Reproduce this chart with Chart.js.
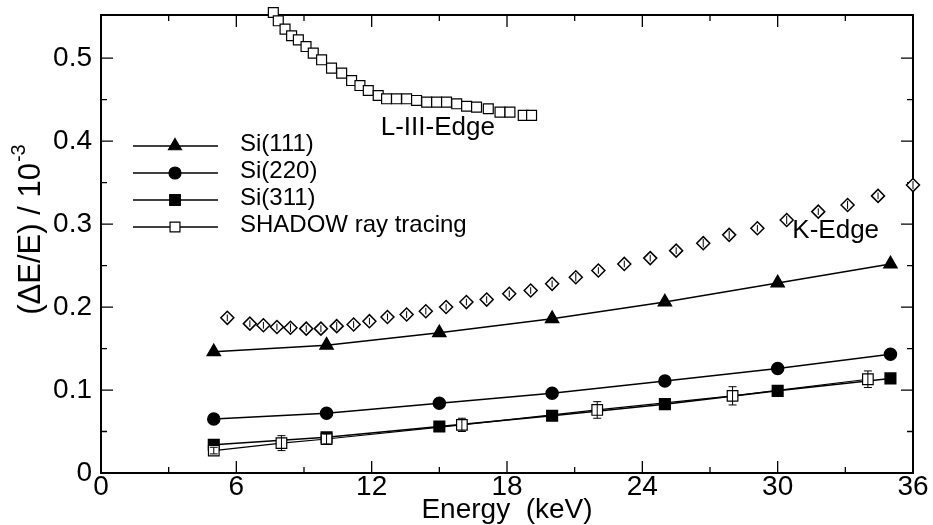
<!DOCTYPE html>
<html>
<head>
<meta charset="utf-8">
<script src="https://cdn.jsdelivr.net/npm/chart.js@4.4.1/dist/chart.umd.min.js"></script>
<style>
  html, body { margin: 0; padding: 0; background: #fff; }
  #contenedor { width: 933px; height: 525px; }
</style>
</head>
<body>
<div id="contenedor"><canvas id="grafica" width="933" height="525"></canvas></div>
<script>
// DATOS
const energiaSi = [5, 10, 15, 20, 25, 30, 35];
const si111 = [0.146, 0.154, 0.169, 0.186, 0.206, 0.229, 0.252];
const si220 = [0.065, 0.072, 0.084, 0.096, 0.111, 0.126, 0.143];
const si311 = [0.034, 0.043, 0.056, 0.069, 0.083, 0.099, 0.114];

const energiaShadow = [5, 8, 10, 16, 22, 28, 34];
const shadow = [0.027, 0.036, 0.041, 0.058, 0.076, 0.093, 0.113];
const errorShadow = [0.004, 0.009, 0.006, 0.008, 0.010, 0.011, 0.010];

const energiaLIII = [7.64, 7.86, 8.16, 8.45, 8.75, 9.09, 9.41, 9.78, 10.22, 10.67,
  11.11, 11.48, 11.85, 12.29, 12.66, 13.1, 13.55, 13.99, 14.44, 14.88,
  15.32, 15.77, 16.21, 16.65, 17.17, 17.69, 18.13, 18.72, 19.09];
const valoresLIII = [0.555, 0.545, 0.535, 0.527, 0.522, 0.514, 0.506, 0.498, 0.488, 0.482,
  0.473, 0.467, 0.461, 0.455, 0.451, 0.451, 0.451, 0.449, 0.447, 0.447,
  0.447, 0.445, 0.442, 0.441, 0.439, 0.435, 0.435, 0.431, 0.431];

const energiaK = [5.6, 6.6, 7.2, 7.8, 8.4, 9.1, 9.75, 10.45, 11.2, 11.9,
  12.7, 13.55, 14.4, 15.3, 16.2, 17.1, 18.1, 19.05, 20.0, 21.05,
  22.05, 23.2, 24.35, 25.5, 26.7, 27.85, 29.1, 30.4, 31.8, 33.1, 34.45, 36.0];
const valoresK = [0.187, 0.180, 0.178, 0.176, 0.175, 0.174, 0.174, 0.177, 0.179, 0.183,
  0.188, 0.191, 0.195, 0.200, 0.206, 0.209, 0.216, 0.220, 0.228, 0.236,
  0.244, 0.252, 0.259, 0.268, 0.277, 0.287, 0.295, 0.305, 0.315, 0.323, 0.334, 0.347];
const errorK = [0.004, 0.004, 0.004, 0.004, 0.005, 0.004, 0.004, 0.005, 0.004, 0.004,
  0.004, 0.004, 0.004, 0.004, 0.004, 0.004, 0.004, 0.004, 0.004, 0.005,
  0.004, 0.004, 0.004, 0.004, 0.005, 0.005, 0.004, 0.005, 0.004, 0.005, 0.004, 0.005];

const ticksX = [0, 6, 12, 18, 24, 30, 36];
const ticksXMenores = [3, 9, 15, 21, 27, 33];
const ticksY = [0, 0.1, 0.2, 0.3, 0.4, 0.5];
const ticksYMenores = [0.05, 0.15, 0.25, 0.35, 0.45];

const nombresSeries = ['Si(111)', 'Si(220)', 'Si(311)', 'SHADOW ray tracing'];
const notas = [
  { texto: 'L-III-Edge', x: 12.4, y: 0.416 },
  { texto: 'K-Edge', x: 30.65, y: 0.292 }
];

const fuente = "'Liberation Sans', Arial, Helvetica, sans-serif";
const graficaCanvas = document.getElementById('grafica');

const puntos = (xs, ys) => xs.map((x, i) => ({ x: x, y: ys[i] }));

// DIBUJA UN MARCADOR PARA LA LEYENDA
function dibujarMarcador(ctx, tipo, x, y, r, relleno) {
  ctx.beginPath();
  if (tipo === 'triangle') {
    for (let i = 0; i < 3; i++) {
      const a = i * 2 * Math.PI / 3;
      const px = x + Math.sin(a) * r;
      const py = y - Math.cos(a) * r;
      if (i === 0) ctx.moveTo(px, py); else ctx.lineTo(px, py);
    }
    ctx.closePath();
  } else if (tipo === 'circle') {
    ctx.arc(x, y, r, 0, Math.PI * 2);
  } else {
    const s = r * Math.SQRT1_2;
    ctx.rect(x - s, y - s, 2 * s, 2 * s);
  }
  ctx.fillStyle = relleno;
  ctx.fill();
  ctx.lineWidth = 1.2;
  ctx.strokeStyle = '#000';
  ctx.stroke();
}

// MARCO Y TICKS HACIA ADENTRO
const pluginMarco = {
  id: 'marco',
  beforeDatasetsDraw(chart) {
    const { ctx, chartArea: a, scales } = chart;
    ctx.save();
    ctx.strokeStyle = '#000';
    ctx.lineWidth = 2;
    ctx.strokeRect(a.left, a.top, a.right - a.left, a.bottom - a.top);
    ctx.lineWidth = 1.3;
    ctx.beginPath();
    const marcarX = (vals, largo) => vals.forEach((v) => {
      const px = scales.x.getPixelForValue(v);
      ctx.moveTo(px, a.bottom); ctx.lineTo(px, a.bottom - largo);
      ctx.moveTo(px, a.top); ctx.lineTo(px, a.top + largo);
    });
    const marcarY = (vals, largo) => vals.forEach((v) => {
      const py = scales.y.getPixelForValue(v);
      ctx.moveTo(a.left, py); ctx.lineTo(a.left + largo, py);
      ctx.moveTo(a.right, py); ctx.lineTo(a.right - largo, py);
    });
    marcarX(ticksX, 12);
    marcarX(ticksXMenores, 6);
    marcarY(ticksY, 12);
    marcarY(ticksYMenores, 6);
    ctx.stroke();
    ctx.restore();
  }
};

// BARRAS DE ERROR
const pluginErrores = {
  id: 'errores',
  afterDatasetsDraw(chart) {
    const { ctx, scales } = chart;
    const barras = (xs, ys, errs, cap, ancho) => {
      ctx.beginPath();
      xs.forEach((x, i) => {
        const px = scales.x.getPixelForValue(x);
        const y1 = scales.y.getPixelForValue(ys[i] - errs[i]);
        const y2 = scales.y.getPixelForValue(ys[i] + errs[i]);
        ctx.moveTo(px, y1); ctx.lineTo(px, y2);
        if (cap > 0) {
          ctx.moveTo(px - cap, y1); ctx.lineTo(px + cap, y1);
          ctx.moveTo(px - cap, y2); ctx.lineTo(px + cap, y2);
        }
      });
      ctx.lineWidth = ancho;
      ctx.stroke();
    };
    ctx.save();
    ctx.strokeStyle = '#000';
    barras(energiaShadow, shadow, errorShadow, 4, 1);
    barras(energiaK, valoresK, errorK, 0, 1);
    ctx.restore();
  }
};

// LEYENDA, TITULOS Y NOTAS
const pluginTextos = {
  id: 'textos',
  afterDraw(chart) {
    const { ctx, chartArea: a, scales } = chart;
    ctx.save();
    ctx.fillStyle = '#000';

    // leyenda
    const estilos = [['triangle', 7.5, '#000'], ['circle', 6, '#000'], ['rect', 7.5, '#000'], ['rect', 7, '#fff']];
    nombresSeries.forEach((nombre, i) => {
      const y = a.top + 131 + i * 27;
      ctx.beginPath();
      ctx.moveTo(a.left + 32, y); ctx.lineTo(a.left + 117, y);
      ctx.lineWidth = 1.5;
      ctx.strokeStyle = '#000';
      ctx.stroke();
      dibujarMarcador(ctx, estilos[i][0], a.left + 74, y, estilos[i][1], estilos[i][2]);
      ctx.fillStyle = '#000';
      ctx.font = '24px ' + fuente;
      ctx.textAlign = 'left';
      ctx.textBaseline = 'middle';
      ctx.fillText(nombre, a.left + 139, y - 2);
    });

    // notas
    ctx.font = '26px ' + fuente;
    notas.forEach((n) => {
      ctx.fillText(n.texto, scales.x.getPixelForValue(n.x), scales.y.getPixelForValue(n.y));
    });

    // titulo eje x
    ctx.font = '28px ' + fuente;
    ctx.textAlign = 'center';
    ctx.fillText('Energy  (keV)', (a.left + a.right) / 2, 510);

    // titulo eje y con superindice
    ctx.translate(31, (a.top + a.bottom) / 2 - 14);
    ctx.rotate(-Math.PI / 2);
    ctx.font = '31px ' + fuente;
    const principal = '(\u0394E/E) / 10';
    const w1 = ctx.measureText(principal).width;
    ctx.font = '20px ' + fuente;
    const w2 = ctx.measureText('-3').width;
    const x0 = -(w1 + w2) / 2;
    ctx.textAlign = 'left';
    ctx.font = '31px ' + fuente;
    ctx.fillText(principal, x0, 0);
    ctx.font = '20px ' + fuente;
    ctx.fillText('-3', x0 + w1 + 1, -12);
    ctx.restore();
  }
};

const config = {
  type: 'scatter',
  data: {
    datasets: [
      {
        label: 'SHADOW L-III',
        data: puntos(energiaLIII, valoresLIII),
        showLine: false,
        pointStyle: 'rect',
        pointRadius: 7,
        pointBackgroundColor: '#fff',
        pointBorderColor: '#000',
        pointBorderWidth: 1.2,
        clip: false
      },
      {
        label: nombresSeries[3],
        data: puntos(energiaShadow, shadow),
        showLine: true,
        borderColor: '#000',
        borderWidth: 1.2,
        pointStyle: 'rect',
        pointRadius: 7.5,
        pointBackgroundColor: '#fff',
        pointBorderColor: '#000',
        pointBorderWidth: 1.2,
        clip: false
      },
      {
        label: 'K-Edge',
        data: puntos(energiaK, valoresK),
        showLine: false,
        pointStyle: 'rectRot',
        pointRadius: 6.5,
        pointBackgroundColor: '#fff',
        pointBorderColor: '#000',
        pointBorderWidth: 1.5,
        clip: false
      },
      {
        label: nombresSeries[0],
        data: puntos(energiaSi, si111),
        showLine: true,
        borderColor: '#000',
        borderWidth: 1.5,
        pointStyle: 'triangle',
        pointRadius: 7.5,
        pointBackgroundColor: '#000',
        pointBorderColor: '#000',
        clip: false
      },
      {
        label: nombresSeries[1],
        data: puntos(energiaSi, si220),
        showLine: true,
        borderColor: '#000',
        borderWidth: 1.5,
        pointStyle: 'circle',
        pointRadius: 6,
        pointBackgroundColor: '#000',
        pointBorderColor: '#000',
        clip: false
      },
      {
        label: nombresSeries[2],
        data: puntos(energiaSi, si311),
        showLine: true,
        borderColor: '#000',
        borderWidth: 1.5,
        pointStyle: 'rect',
        pointRadius: 7.5,
        pointBackgroundColor: '#000',
        pointBorderColor: '#000',
        clip: false
      }
    ]
  },
  options: {
    responsive: false,
    animation: false,
    devicePixelRatio: 1,
    layout: { padding: { left: 0, right: 20, top: 15, bottom: 0 } },
    plugins: {
      legend: { display: false },
      tooltip: { enabled: false }
    },
    scales: {
      x: {
        type: 'linear',
        min: 0,
        max: 36,
        grid: { display: false, drawTicks: false },
        border: { display: false },
        ticks: {
          stepSize: 6,
          padding: -3,
          color: '#000',
          font: { family: fuente, size: 28 },
          maxRotation: 0,
          autoSkip: false
        },
        afterFit: (s) => { s.height = 52; s.paddingLeft = 0; s.paddingRight = 0; }
      },
      y: {
        type: 'linear',
        min: 0,
        max: 0.552,
        grid: { display: false, drawTicks: false },
        border: { display: false },
        ticks: {
          stepSize: 0.1,
          includeBounds: false,
          padding: 9,
          color: '#000',
          font: { family: fuente, size: 28 },
          callback: (v) => (v === 0 ? '0' : v.toFixed(1))
        },
        afterFit: (s) => { s.width = 101; s.paddingTop = 0; s.paddingBottom = 0; }
      }
    }
  },
  plugins: [pluginMarco, pluginErrores, pluginTextos]
};

new Chart(graficaCanvas, config);
</script>
</body>
</html>
